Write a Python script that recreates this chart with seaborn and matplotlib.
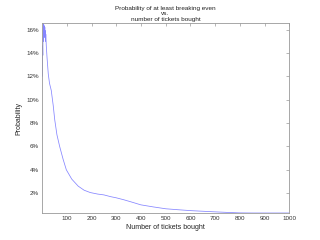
import matplotlib
matplotlib.use("Agg")
import matplotlib.pyplot as plt
import seaborn as sns
import pandas as pd
from matplotlib.ticker import FuncFormatter

tickets = [1, 2, 3, 4, 5, 6, 7, 8, 9, 10, 11, 12, 13, 14, 15, 17, 20, 25, 30, 37, 45, 51, 60,
           71, 85, 98, 120, 146, 170, 195, 225, 250, 277, 300, 331, 365, 399, 450, 501,
           550, 603, 650, 698, 750, 800, 850, 900, 950, 1000]
prob_pct = [12.0, 14.6, 13.8, 16.2, 16.5, 15.0, 16.4, 15.3, 16.3, 15.6, 16.2, 15.4, 15.9, 15.0, 15.6,
            14.6, 13.6, 12.2, 11.4, 10.8, 9.5, 8.3, 7.0,
            6.0, 4.9, 4.0, 3.2, 2.6, 2.25, 2.05, 1.92, 1.85, 1.7, 1.6, 1.43, 1.22, 1.0, 0.82, 0.66,
            0.58, 0.5, 0.45, 0.4, 0.35, 0.31, 0.30, 0.30, 0.30, 0.30]
x_ticks = [100, 200, 300, 400, 500, 600, 700, 800, 900, 1000]
y_ticks = [2, 4, 6, 8, 10, 12, 14, 16]

sns.set_style("white")
plt.rcParams['font.family'] = ['Liberation Sans', 'DejaVu Sans']

df = pd.DataFrame({"tickets": tickets, "prob": prob_pct})

fig = plt.figure(figsize=(3.2, 2.4), dpi=100)
ax = fig.add_axes([0.13, 0.1125, 0.774, 0.791])
sns.lineplot(data=df, x="tickets", y="prob", ax=ax, color="#8585ff", linewidth=0.55)

ax.set_xlim(-2, 1000)
ax.set_ylim(min(prob_pct), max(prob_pct) + 0.05)
ax.set_xticks(x_ticks)
ax.set_yticks(y_ticks)
ax.yaxis.set_major_formatter(FuncFormatter(lambda v, p: f"{v:g}%"))
ax.tick_params(direction="in", length=2.5, width=0.5, color="#999999",
               labelsize=4.5, labelcolor="#333333", top=True, right=True, pad=2)
for s in ax.spines.values():
    s.set_color("#999999")
    s.set_linewidth(0.6)
ax.set_xlabel("Number of tickets bought", fontsize=5, color="#222222", labelpad=2)
ax.set_ylabel("Probability", fontsize=5, color="#222222", labelpad=3)
ax.set_title("Probability of at least breaking even\nvs.\nnumber of tickets bought",
             fontsize=4.6, color="#222222", pad=1.5, linespacing=1.15)

fig.savefig("out.png", dpi=100)
